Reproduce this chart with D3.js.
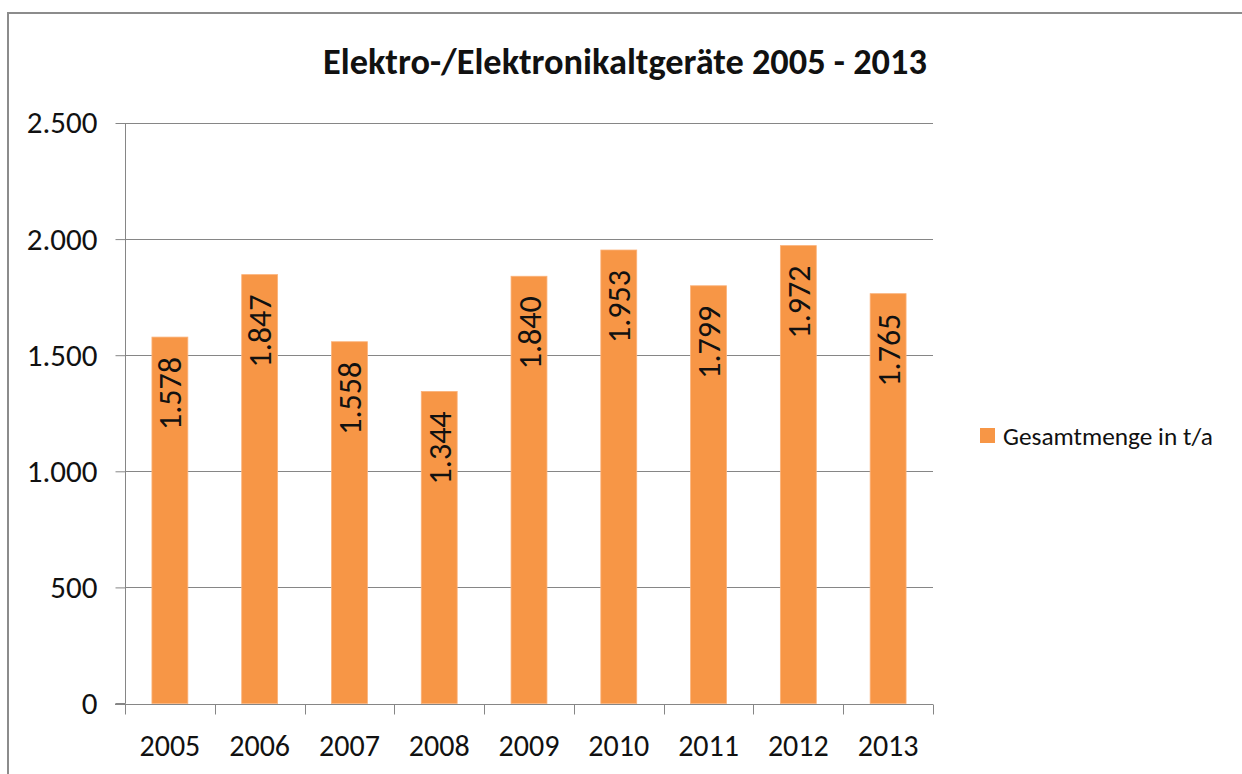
<!DOCTYPE html>
<html>
<head>
<meta charset="utf-8">
<script src="https://cdn.jsdelivr.net/npm/d3@7"></script>
<style>
  html, body { margin: 0; padding: 0; background: #fff; }
  svg { display: block; }
  text { font-family: Carlito, Calibri, "Liberation Sans", Arial, sans-serif; }
</style>
</head>
<body>
<svg id="chart" width="1242" height="774"></svg>
<script>
const title = "Elektro-/Elektronikaltgeräte 2005 - 2013";
const years = ["2005", "2006", "2007", "2008", "2009", "2010", "2011", "2012", "2013"];
const amounts = [1578, 1847, 1558, 1344, 1840, 1953, 1799, 1972, 1765];
const seriesName = "Gesamtmenge in t/a";
const yTicks = [0, 500, 1000, 1500, 2000, 2500];

(function () {
const W = 1242, H = 774;
const svg = d3.select("#chart");
const fmt = d3.formatLocale({ decimal: ",", thousands: ".", grouping: [3], currency: ["", ""] }).format(",d");

const pL = 125, pR = 933, pT = 123, pB = 703.5;
const x = d3.scaleBand().domain(years).range([pL, pR]).paddingInner(0.6).paddingOuter(0.3);
const xCat = d3.scaleBand().domain(years).range([pL, pR]).padding(0);
const y = d3.scaleLinear().domain([0, 2500]).range([pB, pT]);

const axisColor = "#868686";
const textColor = "#111";

function fit(sel, target) {
  const len = sel.node().getComputedTextLength();
  const fs = parseFloat(sel.attr("font-size"));
  sel.attr("font-size", fs * target / len);
}

// outer border
svg.append("rect").attr("x", 8).attr("y", 13).attr("width", W + 50).attr("height", H + 50)
  .attr("fill", "none").attr("stroke", "#8c8c8c").attr("stroke-width", 2);

// gridlines
svg.append("g").selectAll("line").data(yTicks.filter(d => d > 0)).join("line")
  .attr("x1", pL).attr("x2", pR)
  .attr("y1", d => Math.round(y(d)) + 0.5).attr("y2", d => Math.round(y(d)) + 0.5)
  .attr("stroke", axisColor).attr("stroke-width", 1);

// bars
svg.append("g").selectAll("rect").data(amounts).join("rect")
  .attr("x", (d, i) => x(years[i]))
  .attr("width", x.bandwidth())
  .attr("y", d => y(d))
  .attr("height", d => y(0) - y(d))
  .attr("fill", "#F79646")
  .attr("stroke", "#fbb27a").attr("stroke-width", 0.8);

// y axis
const yAxis = svg.append("g").attr("transform", `translate(${pL + 0.5},0)`)
  .call(d3.axisLeft(y).tickValues(yTicks).tickSize(10).tickPadding(18).tickFormat(fmt));
yAxis.select(".domain").attr("stroke", axisColor).attr("d", `M-10,${y(0)}H0V${pT}`);
yAxis.selectAll(".tick line").attr("stroke", axisColor);
yAxis.selectAll(".tick text").attr("font-size", 31).attr("fill", textColor)
  .attr("font-family", 'Carlito, Calibri, "Liberation Sans", Arial, sans-serif');

// x axis
const xAxisG = svg.append("g").attr("transform", `translate(0,${Math.round(pB) + 0.5})`);
xAxisG.append("line").attr("x1", pL - 10).attr("x2", pR).attr("y1", 0).attr("y2", 0)
  .attr("stroke", axisColor);
const bounds = years.map(d => xCat(d)).concat([pR]);
xAxisG.selectAll("line.tk").data(bounds).join("line").attr("class", "tk")
  .attr("x1", d => Math.round(d) + 0.5).attr("x2", d => Math.round(d) + 0.5)
  .attr("y1", 0).attr("y2", 10).attr("stroke", axisColor);
xAxisG.selectAll("text").data(years).join("text")
  .attr("x", d => xCat(d) + xCat.bandwidth() / 2)
  .attr("y", 51)
  .attr("text-anchor", "middle")
  .attr("font-size", 30).attr("fill", textColor)
  .text(d => d);

// data labels
svg.append("g").selectAll("text").data(amounts).join("text")
  .attr("transform", (d, i) => `translate(${x(years[i]) + x.bandwidth() / 2},${y(d) + 20}) rotate(-90)`)
  .attr("text-anchor", "end")
  .attr("dy", "0.36em")
  .attr("font-size", 32).attr("fill", textColor)
  .text(d => fmt(d));

// title
const t = svg.append("text").attr("x", 625).attr("y", 74).attr("text-anchor", "middle")
  .attr("font-size", 32).attr("font-weight", "bold").attr("fill", textColor).text(title);
fit(t, 604);

// legend
svg.append("rect").attr("x", 980).attr("y", 428).attr("width", 15).attr("height", 15).attr("fill", "#F79646");
const lt = svg.append("text").attr("x", 1003).attr("y", 436).attr("dy", "0.35em")
  .attr("font-size", 22).attr("fill", textColor).text(seriesName);
fit(lt, 210);
})();
</script>
</body>
</html>
